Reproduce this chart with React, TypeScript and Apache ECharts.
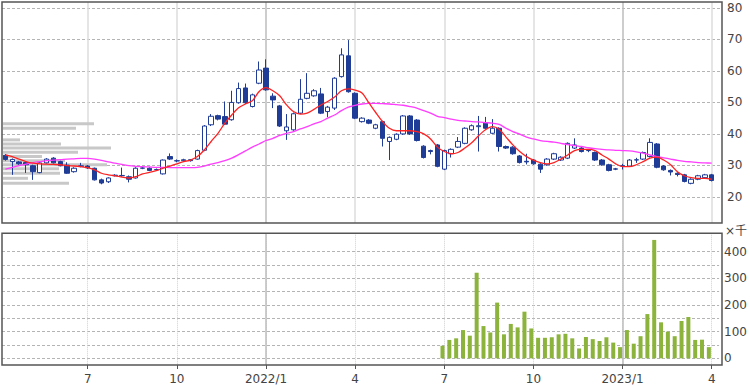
import React, { useEffect, useRef } from 'react';
import * as echarts from 'echarts';

// x positions: week index (0 = week of 2021-04-12), month-start tick weeks
const tickIndex = [12, 25, 38, 51, 64, 77, 90, 103];
const tickLabels = ['7', '10', '2022/1', '4', '7', '10', '2023/1', '4'];
const yearTickIndex = [38, 90];

const opens = [
  33.2, 31.2, 31.1, 30.9, 29.9, 27.7, 30.8, 32.3, 31.2, 30.1,
  28.0, 29.6, 29.8, 29.1, 25.4, 24.8, 26.7, 26.7, 26.4, 26.0,
  29.1, 29.1, 28.6, 27.3, 32.8, 31.4, 31.5, 31.8, 32.0, 34.8,
  42.9, 45.8, 45.5, 44.5, 49.9, 54.6, 48.7, 56.1, 60.9, 52.0,
  48.9, 41.0, 41.3, 46.6, 51.3, 52.1, 52.7, 47.1, 48.2, 58.2,
  64.8, 52.9, 43.9, 44.4, 41.8, 43.9, 37.6, 38.3, 40.0, 45.7,
  44.4, 36.1, 34.7, 36.5, 28.8, 33.7, 35.8, 37.0, 41.3, 42.3,
  43.4, 40.2, 41.8, 36.0, 35.8, 33.0, 31.3, 31.7, 30.4, 30.2,
  32.0, 31.7, 32.3, 35.5, 35.5, 34.7, 34.1, 31.7, 30.2, 28.8,
  29.8, 29.8, 31.7, 32.0, 32.8, 36.8, 29.8, 28.4, 27.5, 27.0,
  24.3, 25.6, 26.1, 27.0,
];
const closes = [
  31.9, 31.9, 30.5, 30.2, 28.0, 30.8, 32.0, 30.8, 29.9, 27.5,
  29.1, 29.9, 29.2, 25.4, 24.4, 26.0, 26.9, 26.8, 25.6, 29.1,
  29.2, 28.4, 28.7, 31.7, 32.0, 31.5, 31.8, 31.5, 34.7, 42.5,
  45.6, 44.7, 43.1, 50.0, 54.4, 49.9, 52.4, 60.3, 54.0, 50.8,
  42.5, 42.2, 46.4, 51.0, 52.9, 53.7, 46.6, 48.5, 57.7, 65.1,
  53.4, 45.0, 45.0, 43.4, 42.9, 38.6, 38.9, 39.9, 45.7, 40.0,
  37.9, 32.5, 34.4, 29.7, 34.7, 35.1, 37.6, 41.8, 42.6, 42.6,
  41.8, 41.8, 36.0, 35.5, 33.7, 30.9, 31.1, 30.5, 28.8, 32.0,
  33.7, 32.6, 37.0, 36.5, 34.4, 34.8, 31.7, 30.2, 28.4, 28.9,
  29.9, 31.7, 31.8, 34.1, 37.3, 29.4, 28.6, 27.9, 27.1, 24.9,
  25.6, 26.7, 27.0, 25.2,
];
const lows = [
  31.5, 27.0, 30.2, 27.6, 25.4, 27.5, 30.6, 30.6, 29.7, 27.3,
  27.7, 29.4, 28.9, 25.2, 24.0, 24.4, 26.5, 26.4, 24.6, 25.8,
  28.8, 28.2, 28.3, 27.1, 31.7, 31.0, 31.2, 31.2, 31.8, 34.5,
  42.5, 44.3, 42.8, 44.2, 49.6, 49.5, 48.4, 55.8, 53.7, 48.2,
  42.2, 38.1, 41.0, 46.3, 51.0, 51.8, 46.3, 45.3, 47.6, 57.9,
  53.1, 44.7, 43.6, 43.1, 41.5, 36.0, 31.7, 38.0, 39.7, 39.7,
  37.6, 32.2, 33.5, 29.4, 28.5, 32.5, 35.5, 36.7, 41.0, 34.4,
  41.5, 40.0, 34.4, 35.2, 33.4, 30.6, 30.3, 30.2, 27.6, 29.9,
  31.7, 31.4, 32.0, 35.2, 34.1, 34.2, 31.4, 29.9, 28.1, 28.5,
  28.7, 29.5, 30.8, 31.7, 32.5, 29.1, 28.3, 26.8, 26.5, 24.6,
  24.0, 25.3, 25.8, 24.9,
];
const highs = [
  33.6, 32.2, 31.4, 31.2, 30.2, 31.0, 32.3, 32.6, 31.5, 31.0,
  29.4, 30.8, 30.1, 29.3, 25.8, 26.2, 27.2, 29.3, 26.8, 29.4,
  29.6, 29.4, 29.0, 31.9, 33.8, 31.9, 32.1, 32.0, 35.0, 42.8,
  46.3, 46.1, 50.3, 53.7, 56.3, 56.0, 52.8, 63.0, 63.7, 52.9,
  49.2, 46.3, 46.8, 57.4, 59.3, 54.2, 54.6, 48.9, 58.0, 67.2,
  69.8, 53.2, 45.3, 44.7, 43.2, 44.2, 39.2, 40.2, 46.0, 46.0,
  44.7, 36.4, 35.0, 36.8, 35.0, 35.4, 39.0, 42.1, 43.0, 45.7,
  45.4, 44.7, 42.1, 36.3, 36.1, 33.3, 33.7, 32.0, 30.7, 32.3,
  34.0, 32.9, 37.3, 38.6, 35.8, 35.1, 34.4, 32.0, 30.5, 29.2,
  30.5, 32.0, 32.4, 34.4, 38.6, 37.1, 30.1, 28.7, 27.8, 27.3,
  25.9, 27.0, 27.3, 27.3,
];

// 13-week (red) and 26-week (magenta) moving averages
const ma13 = [
  33.3, 32.8, 32.0, 31.2, 30.7, 30.5, 30.4, 30.3, 30.2, 29.9,
  29.8, 29.6, 29.3, 28.6, 27.5, 27.0, 26.7, 26.3, 26.0, 26.4,
  27.3, 27.8, 28.3, 29.1, 29.8, 30.5, 31.2, 31.7, 32.8, 34.9,
  37.6, 40.2, 43.4, 46.0, 48.3, 49.5, 50.5, 53.5, 54.7, 53.7,
  52.1, 49.2, 47.1, 46.3, 46.6, 47.8, 49.2, 50.3, 51.7, 53.7,
  54.3, 53.9, 53.0, 49.9, 46.8, 43.9, 41.8, 41.0, 41.0, 41.0,
  40.7, 40.0, 38.4, 35.8, 34.4, 33.7, 34.1, 35.5, 37.2, 39.4,
  41.3, 42.3, 41.5, 39.0, 36.5, 34.4, 32.8, 31.7, 30.9, 30.5,
  30.9, 32.0, 33.3, 34.7, 35.1, 35.1, 34.7, 33.3, 32.0, 30.5,
  29.6, 29.6, 30.2, 31.2, 32.3, 32.6, 31.7, 30.2, 28.0, 26.7,
  26.1, 25.9, 25.9, 25.6,
];
const ma26 = [
  28.8, 29.4, 29.9, 30.4, 30.9, 31.2, 31.5, 31.7, 31.8, 32.0,
  32.1, 32.2, 32.2, 32.0, 31.6, 31.1, 30.7, 30.3, 29.9, 29.7,
  29.6, 29.5, 29.4, 29.4, 29.3, 29.3, 29.3, 29.3, 29.4, 29.8,
  30.4, 30.9, 31.5, 32.3, 33.4, 34.6, 35.8, 36.8, 37.9, 38.6,
  39.5, 40.2, 40.7, 41.6, 42.3, 43.2, 43.9, 45.0, 46.0, 47.4,
  48.5, 49.1, 49.5, 49.7, 49.7, 49.6, 49.5, 49.3, 49.1, 48.7,
  48.2, 47.4, 46.6, 45.6, 45.2, 44.7, 44.3, 44.1, 43.9, 43.8,
  43.6, 43.4, 43.0, 41.8, 40.7, 39.9, 39.0, 38.4, 37.9, 37.6,
  37.4, 37.0, 36.6, 36.3, 36.0, 35.6, 35.3, 35.1, 34.9, 34.8,
  34.7, 34.6, 34.3, 33.9, 33.3, 32.8, 32.4, 32.0, 31.6, 31.3,
  31.1, 30.9, 30.8, 30.7,
];

// weekly volume (x1000 shares), available from week 64 (2022-07) onward
const volumeStart = 64;
const volumes = [
  47, 69, 75, 106, 85, 321, 121, 97, 209, 90,
  129, 116, 175, 112, 77, 77, 79, 90, 92, 75,
  37, 80, 72, 65, 79, 59, 42, 106, 55, 83,
  166, 444, 135, 100, 83, 140, 155, 69, 70, 42,
];

// price-by-volume profile (price level, relative volume)
const profilePrices = [43.2, 41.8, 38.1, 36.8, 35.5, 34.2, 32.8, 31.5, 30.2, 28.9, 27.5, 25.9, 24.3];
const profileVolumes = [91, 73, 17, 58, 108, 75, 39, 62, 104, 56, 57, 25, 66];

const FONT = "'DejaVu Sans', Verdana, sans-serif";
const NAVY = '#1f3c96';

export default function App() {
  const ref = useRef<HTMLDivElement>(null);
  useEffect(() => {
    const chart = echarts.init(ref.current!, null, { renderer: 'svg' });
    const labelMap: Record<number, string> = {};
    tickIndex.forEach((t, k) => (labelMap[t] = tickLabels[k]));

    const option: any = {
      animation: false,
      textStyle: { fontFamily: FONT },
      grid: [
        { left: 2, top: 2, width: 720, height: 221 },
        { left: 2, top: 238.6, width: 720, height: 126.4 },
        { left: 2, top: 233.3, width: 720, height: 131.7 },
      ],
      xAxis: [
        {
          gridIndex: 0, type: 'value', min: -0.5, max: 104.5,
          axisLine: { show: false },
          axisTick: { show: false, customValues: tickIndex },
          axisLabel: { show: false, customValues: tickIndex },
          splitLine: { show: true, lineStyle: { color: ['#dcdcdc', '#dcdcdc', '#bcbcbc', '#dcdcdc'], width: 1.5 } },
        },
        {
          gridIndex: 0, type: 'value', position: 'top', min: 0, max: 720, show: false,
        },
        {
          gridIndex: 1, type: 'value', min: -0.5, max: 104.5, show: false,
        },
        {
          gridIndex: 2, type: 'value', min: -0.5, max: 104.5,
          axisLine: { show: false },
          axisTick: { show: true, customValues: tickIndex, length: 4, lineStyle: { color: '#555' } },
          axisLabel: {
            customValues: tickIndex, margin: 8, fontSize: 12, color: '#444', fontFamily: FONT,
            formatter: (v: number) => labelMap[Math.round(v)] ?? '',
          },
          splitLine: { show: true, lineStyle: { color: '#cfcfcf', type: 'dotted', width: 1 } },
        },
        {
          gridIndex: 2, type: 'value', position: 'top', min: -0.5, max: 104.5,
          axisLine: { show: false },
          axisTick: { show: false, customValues: yearTickIndex },
          axisLabel: { show: false, customValues: yearTickIndex },
          splitLine: { show: true, lineStyle: { color: '#bcbcbc', width: 1.5 } },
        },
      ],
      yAxis: [
        {
          gridIndex: 0, type: 'value', position: 'right', min: 11.7, max: 81.9, splitNumber: 7,
          axisLine: { show: false }, axisTick: { show: false },
          axisLabel: { showMinLabel: false, showMaxLabel: false, margin: 5, fontSize: 12, color: '#444', fontFamily: FONT },
          splitLine: { show: true, showMinLine: false, showMaxLine: false, lineStyle: { color: '#b4b4b4', type: [3, 2] } },
        },
        {
          gridIndex: 1, type: 'value', position: 'right', min: -25, max: 449, splitNumber: 9,
          axisLine: { show: false }, axisTick: { show: false },
          axisLabel: {
            showMinLabel: false, showMaxLabel: false, margin: 5, fontSize: 12, color: '#444', fontFamily: FONT,
            formatter: (v: number) => (v >= 0 && v % 100 === 0 ? String(v) : ''),
          },
          splitLine: { show: true, showMinLine: false, showMaxLine: false, lineStyle: { color: '#b4b4b4', type: [3, 2] } },
        },
        { gridIndex: 2, type: 'value', min: 0, max: 1, show: false },
      ],
      series: [
        {
          type: 'custom', xAxisIndex: 1, yAxisIndex: 0, z: 1, silent: true,
          data: profilePrices.map((p, i) => [profileVolumes[i], p]),
          renderItem: (_params: any, api: any) => {
            const v = api.value(0);
            const p = api.value(1);
            const a = api.coord([0, p]);
            const b = api.coord([v, p]);
            return {
              type: 'rect',
              shape: { x: a[0] + 1, y: a[1] - 1.5, width: b[0] - a[0], height: 3 },
              style: { fill: '#c8c8c8' },
            };
          },
        },
        {
          type: 'candlestick', xAxisIndex: 0, yAxisIndex: 0, z: 2, barWidth: 5,
          data: opens.map((o, i) => [i, o, closes[i], lows[i], highs[i]]),
          itemStyle: { color: '#ffffff', color0: NAVY, borderColor: NAVY, borderColor0: NAVY, borderWidth: 1 },
        },
        {
          type: 'line', xAxisIndex: 0, yAxisIndex: 0, z: 3, symbol: 'none', smooth: 0.3,
          data: ma26.map((v, i) => [i, v]),
          lineStyle: { color: '#ff3cff', width: 1.3 },
        },
        {
          type: 'line', xAxisIndex: 0, yAxisIndex: 0, z: 4, symbol: 'none', smooth: 0.3,
          data: ma13.map((v, i) => [i, v]),
          lineStyle: { color: '#ff2222', width: 1.3 },
        },
        {
          type: 'bar', xAxisIndex: 2, yAxisIndex: 1, barWidth: 4,
          data: volumes.map((v, k) => [volumeStart + k, v]),
          itemStyle: { color: '#8cb43c' },
        },
      ],
      graphic: [
        { type: 'rect', z: 100, silent: true, shape: { x: 2, y: 2, width: 720, height: 221 }, style: { fill: 'none', stroke: '#555', lineWidth: 1.5 } },
        { type: 'rect', z: 100, silent: true, shape: { x: 2, y: 233.3, width: 720, height: 131.7 }, style: { fill: 'none', stroke: '#555', lineWidth: 1.5 } },
        { type: 'text', z: 100, x: 725, y: 225, style: { text: '×千', fontSize: 12, fill: '#444', fontFamily: "'DejaVu Sans', 'Noto Sans CJK JP', sans-serif" } },
      ],
    };
    chart.setOption(option);
    return () => chart.dispose();
  }, []);
  return <div ref={ref} style={{ position: 'absolute', left: 0, top: 0, width: 750, height: 386 }} />;
}
